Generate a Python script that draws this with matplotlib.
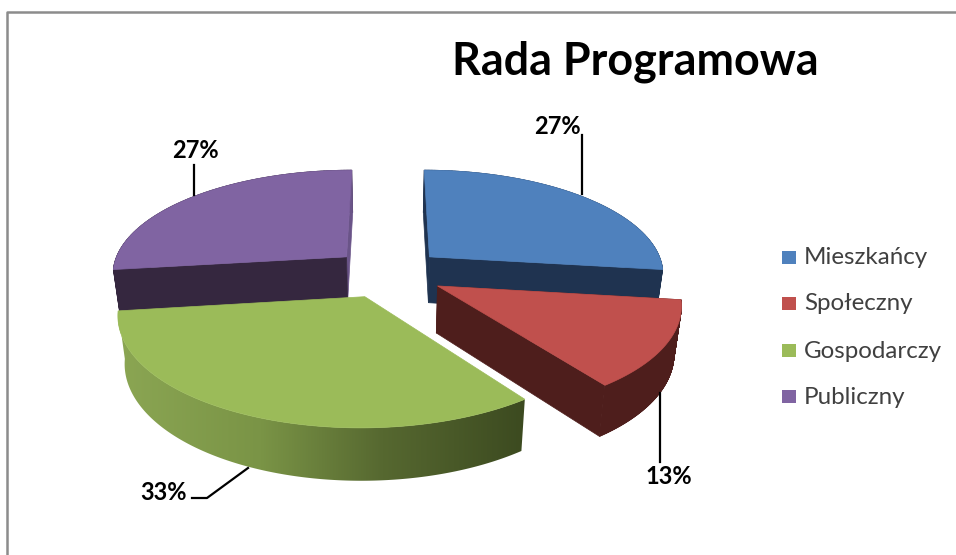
#!/usr/bin/env python3
# -*- coding: utf-8 -*-
import numpy as np
import matplotlib
matplotlib.use('Agg')
import matplotlib.pyplot as plt
from matplotlib.collections import PolyCollection
from matplotlib.colors import LinearSegmentedColormap
from matplotlib.patches import Polygon

title = 'Rada Programowa'
categories = ['Mieszkańcy', 'Społeczny', 'Gospodarczy', 'Publiczny']
values = [27, 13, 33, 27]

top_colors = ['#4f81bd', '#c0504d', '#9bbb59', '#8064a2']
side_colors = ['#1f3350', '#4e1e1c', '#3c4a20', '#35273f']
end_colors = ['#1f3350', '#4e1e1c', '#3c4a20', '#6a5488']

# projection of the pie, in pixels
cx, cy = 388.0, 273.0
rx, ry = 235.5, 104.0
persp = 0.148
explode = 0.24
shrink = 0.975
depth = 46.5


def project(X, Y, bottom=False):
    w = 1 - persp * Y
    sx = rx * X / w
    sy = ry * Y / w
    if bottom:
        return cx + shrink * sx, cy + shrink * sy + depth / w
    return cx + sx, cy + sy


fig = plt.figure(figsize=(9.56, 5.55), dpi=100)
ax = fig.add_axes([0, 0, 1, 1])
ax.axis('off')

# chart frame, cut off on the right and at the bottom
ax.plot([7.5, 7.5, 956], [555, 11.5, 11.5], color='#8c8c8c', lw=1.8)

fracs = np.array(values) / sum(values)
edges = np.concatenate([[0], np.cumsum(fracs)]) * 2 * np.pi
green_cmap = LinearSegmentedColormap.from_list(
    'rim', [(0, '#8ba653'), (0.35, '#7a9446'), (0.65, '#566830'), (1, '#3c4a20')])

# painter's order, back slices first
for i in [3, 0, 2, 1]:
    a0, a1 = edges[i], edges[i + 1]
    mid = (a0 + a1) / 2
    ox, oy = explode * np.sin(mid), -explode * np.cos(mid)
    t = np.linspace(a0, a1, 240)
    X = ox + np.sin(t)
    Y = oy - np.cos(t)
    tx, ty = project(X, Y)
    bx, by = project(X, Y, bottom=True)

    if i == 2:
        # only this rim has the gradient, its cut faces are hidden anyway
        rim = Polygon(np.c_[np.r_[tx, bx[::-1]], np.r_[ty, by[::-1]]], closed=True,
                      transform=ax.transData, fc='none', ec='none')
        ax.add_patch(rim)
        im = ax.imshow(np.linspace(0, 1, 256).reshape(1, -1), cmap=green_cmap, aspect='auto',
                       extent=[bx.min() - 7, tx.max(), by.max(), ty.min()], zorder=1)
        im.set_clip_path(rim)
    else:
        quads = []
        for j in range(len(t) - 1):
            quads.append([(tx[j], ty[j]), (tx[j + 1], ty[j + 1]), (bx[j + 1], by[j + 1]), (bx[j], by[j])])
        ax.add_collection(PolyCollection(quads, facecolors=side_colors[i], edgecolors=side_colors[i],
                                         linewidths=0.5, zorder=1))
        apx, apy = project(ox, oy)
        apbx, apby = project(ox, oy, bottom=True)
        ax.fill([apx, tx[-1], bx[-1], apbx], [apy, ty[-1], by[-1], apby], color=end_colors[i], lw=0.5, zorder=1)
        ax.fill([apx, tx[0], bx[0], apbx], [apy, ty[0], by[0], apby], color=side_colors[i], lw=0.5, zorder=1)

    # top surface
    apx, apy = project(ox, oy)
    ax.fill(np.r_[apx, tx], np.r_[apy, ty], color=top_colors[i], lw=0.5, zorder=1)

# leader lines and data labels
ax.plot([582, 582], [135, 194], color='black', lw=1.6, zorder=2)
ax.plot([660, 660], [393, 462], color='black', lw=1.6, zorder=2)
ax.plot([192, 207, 248], [498, 498, 468], color='black', lw=1.6, zorder=2)
ax.plot([194, 194], [165, 195], color='black', lw=1.6, zorder=2)

label_pos = [(557, 126), (669, 476), (164, 492), (195, 150)]
for v, (x, y) in zip(values, label_pos):
    ax.text(x, y, '%d%%' % v, ha='center', va='center', fontsize=17,
            fontweight='bold', family='Lato', color='black')

ax.text(635, 62, title, ha='center', va='center', fontsize=32.3,
        fontweight='bold', family='Lato', color='black')

# legend
for cat, col, y in zip(categories, top_colors, [257, 303, 350, 396]):
    ax.fill([782, 796, 796, 782], [y - 6.5, y - 6.5, y + 6.5, y + 6.5], color=col, lw=0)
    ax.text(804, y + 1, cat, ha='left', va='center', fontsize=17.4, family='Lato', color='#404040')

ax.set_xlim(0, 956)
ax.set_ylim(555, 0)
fig.savefig('out.png', dpi=100)
